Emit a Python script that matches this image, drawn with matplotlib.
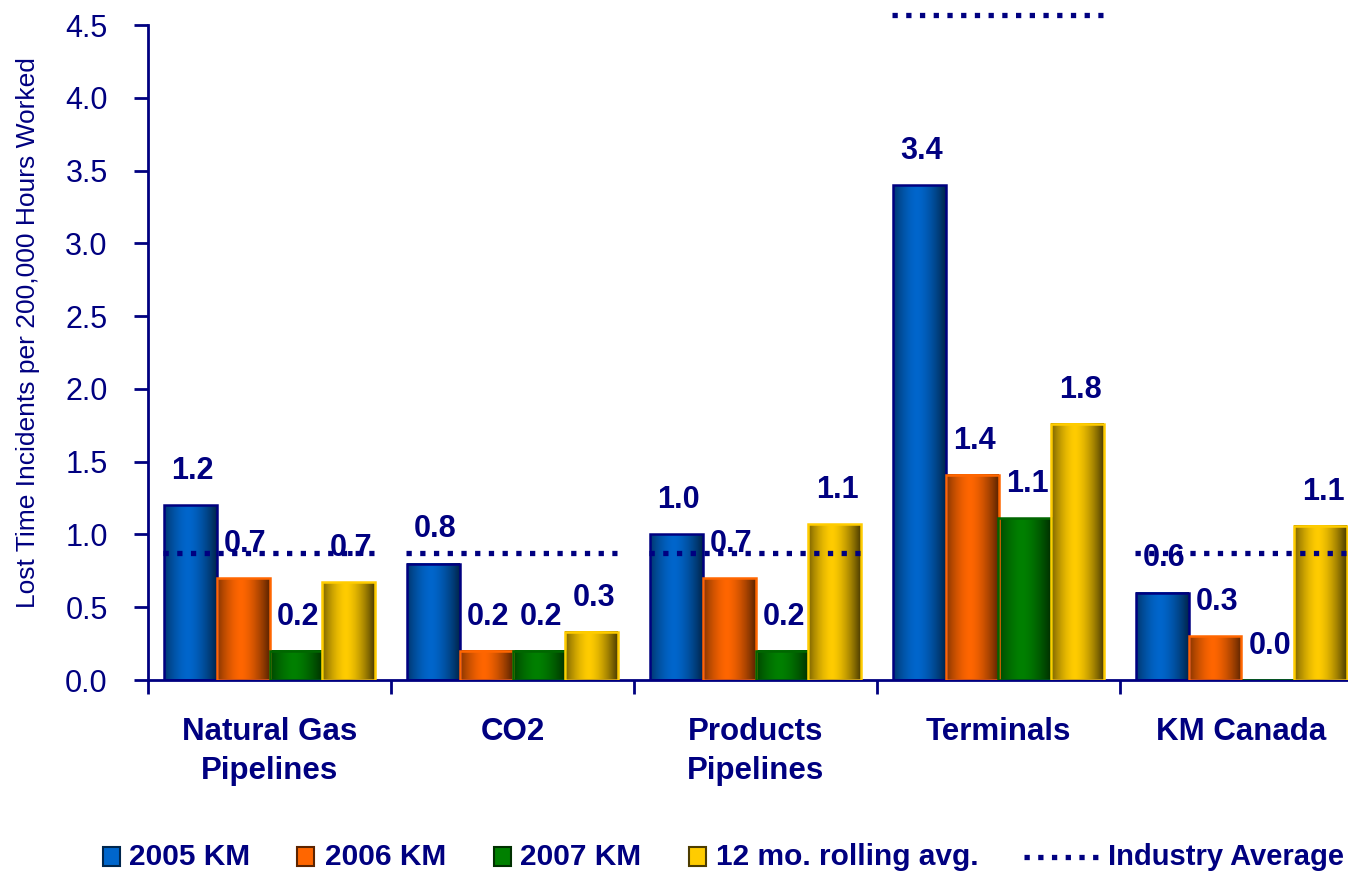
import numpy as np
import matplotlib
matplotlib.use("Agg")
import matplotlib.pyplot as plt
from matplotlib.colors import to_rgb
from matplotlib.patches import Rectangle
from matplotlib.lines import Line2D

# -----------------------------
# Data
# -----------------------------
categories = ["Natural Gas\nPipelines", "CO2", "Products\nPipelines", "Terminals", "KM Canada"]
series_names = ["2005 KM", "2006 KM", "2007 KM", "12 mo. rolling avg."]
km_2005 = [1.2, 0.8, 1.0, 3.4, 0.6]
km_2006 = [0.7, 0.2, 0.7, 1.41, 0.3]
km_2007 = [0.2, 0.2, 0.2, 1.11, 0.0]
rolling_12mo = [0.67, 0.33, 1.07, 1.76, 1.06]
industry_avg = [0.87, 0.87, 0.87, 4.57, 0.87]

NAVY = "#000080"
centers = ["#0066CC", "#FF6600", "#008000", "#FFCC00"]
edges_dark = ["#00264D", "#5C2400", "#003000", "#4D3D00"]
outlines = ["#000080", "#FF6600", "#006600", "#FFCC00"]

plt.rcParams["font.family"] = ["Liberation Sans", "DejaVu Sans"]

fig = plt.figure(figsize=(13.48, 8.74), dpi=100)
W, H = 1348, 874
ax = fig.add_axes([148 / W, 1 - 680 / H, 1215 / W, 655 / H])

x = np.arange(len(categories))
bw = 0.218
series = [km_2005, km_2006, km_2007, rolling_12mo]


def grad_img(c_mid, c_edge, n=64):
    t = np.linspace(0, 1, n)
    v = 1 - np.abs(2 * (t - 0.45) / 1.1) ** 1.6
    v = np.clip(v, 0, 1)
    cm, ce = np.array(to_rgb(c_mid)), np.array(to_rgb(c_edge))
    row = ce[None, :] + (cm - ce)[None, :] * v[:, None]
    return row[None, :, :]


for i, vals in enumerate(series):
    pos = x + (i - 1.5) * bw
    img = grad_img(centers[i], edges_dark[i])
    bars = ax.bar(pos, vals, bw, facecolor="none", edgecolor=outlines[i],
                  linewidth=1.8, zorder=3)
    for b, v in zip(bars, vals):
        if v > 0:
            ax.imshow(img, extent=(b.get_x(), b.get_x() + bw, 0, v),
                      aspect="auto", zorder=2, interpolation="bilinear")
        ax.text(b.get_x() + bw / 2 + 0.01, v + 0.235, f"{v:.1f}", ha="center",
                va="center", fontsize=22, fontweight="bold", color=NAVY, zorder=5)

# industry average dotted lines
for xi, ia in zip(x, industry_avg):
    ax.plot([xi - 0.44, xi + 0.43], [ia, ia], color=NAVY, linewidth=3.8,
            dashes=(1.0, 1.6), dash_capstyle="butt", zorder=4, clip_on=False)

ax.set_xlim(-0.5, 4.5)
ax.set_ylim(0, 4.5)
ticks = np.arange(0, 4.51, 0.5)
ax.set_yticks(ticks)
ax.set_yticklabels([f"{v:.1f}" for v in ticks])
ax.set_xticks(x)
ax.set_xticklabels(categories, fontsize=22.5, fontweight="bold", color=NAVY,
                   linespacing=1.38)
ax.set_xticks(np.arange(-0.5, 4.6, 1), minor=True)
ax.tick_params(axis="x", which="major", length=0, pad=27)
ax.tick_params(axis="x", which="minor", length=10, width=2, color=NAVY, direction="out")
ax.tick_params(axis="y", length=10, width=2, color=NAVY, labelsize=22,
               labelcolor=NAVY, pad=19)
for s in ["top", "right"]:
    ax.spines[s].set_visible(False)
for s in ["left", "bottom"]:
    ax.spines[s].set_color(NAVY)
    ax.spines[s].set_linewidth(2)

fig.text(28 / W, 1 - 333 / H, "Lost Time Incidents per 200,000 Hours Worked",
         rotation=90, ha="center", va="center", fontsize=19, color=NAVY)

# -----------------------------
# Legend (manual)
# -----------------------------
ly = 1 - 857 / H
marker_x = [103, 297, 494, 689]
text_x = [129, 325, 520, 716]
for i in range(4):
    fig.add_artist(Rectangle((marker_x[i] / W, 1 - 866 / H), 17 / W, 19 / H,
                             transform=fig.transFigure, facecolor=centers[i],
                             edgecolor=edges_dark[i], linewidth=1.5))
    fig.text(text_x[i] / W, ly, series_names[i], ha="left", va="center",
             fontsize=21.5, fontweight="bold", color=NAVY)
fig.add_artist(Line2D([1024 / W, 1098 / W], [ly, ly], transform=fig.transFigure,
                      color=NAVY, linewidth=3.8, dashes=(1.0, 1.6), dash_capstyle="butt"))
fig.text(1108 / W, ly, "Industry Average", ha="left", va="center",
         fontsize=21, fontweight="bold", color=NAVY)

fig.savefig("out.png", dpi=100)
